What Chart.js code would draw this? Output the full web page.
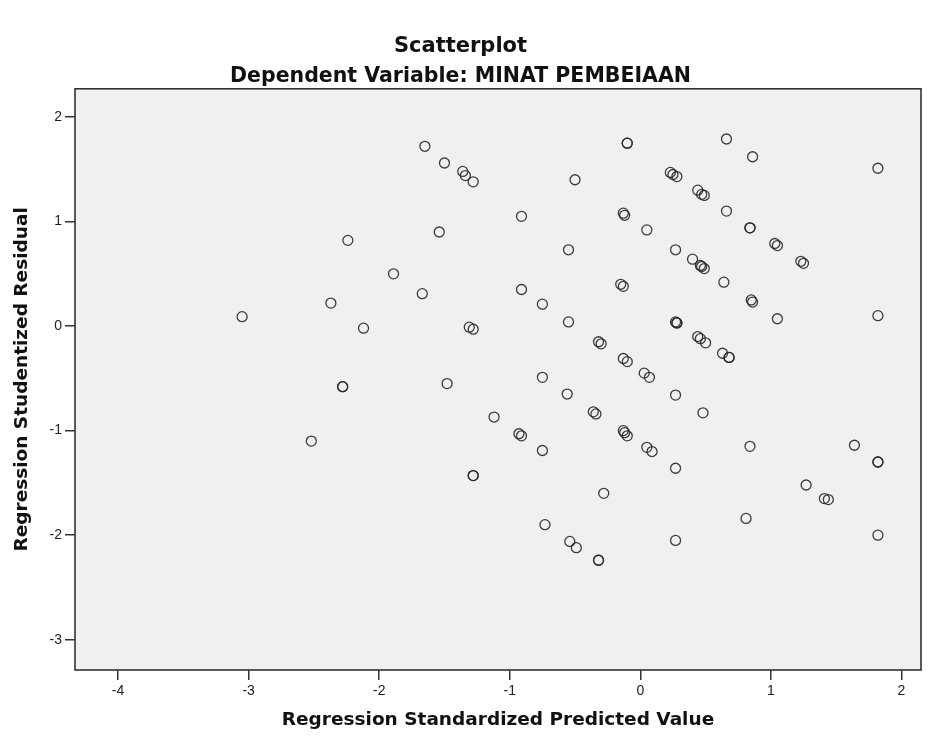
<!DOCTYPE html>
<html>
<head>
<meta charset="utf-8">
<script src="https://cdn.jsdelivr.net/npm/chart.js@4"></script>
<style>
  html, body { margin: 0; padding: 0; background: #fff; }
  #wrap { width: 935px; height: 744px; }
</style>
</head>
<body>
<div id="wrap"><canvas id="scatter-residual"></canvas></div>
<script>
// residual scatterplot (SPSS style)
const predicted = [
  -3.05, -2.52, -2.24, -2.37, -2.12, -2.28, -2.28, -1.89, -1.67, -1.65,
  -1.50, -1.36, -1.34, -1.28, -1.54, -1.48, -1.31, -1.28, -1.28, -1.28,
  -1.12, -0.93, -0.91, -0.91, -0.91, -0.75, -0.75, -0.75, -0.73, -0.55,
  -0.55, -0.56, -0.54, -0.49, -0.50, -0.32, -0.30, -0.36, -0.34, -0.28,
  -0.32, -0.32, -0.10, -0.10, -0.13, -0.12, -0.15, -0.13, -0.13, -0.10,
  -0.13, -0.12, -0.10, 0.05, 0.03, 0.07, 0.05, 0.09, 0.23, 0.25,
  0.28, 0.27, 0.27, 0.28, 0.28, 0.27, 0.27, 0.27, 0.40, 0.46,
  0.47, 0.49, 0.44, 0.47, 0.49, 0.44, 0.46, 0.50, 0.48, 0.64,
  0.63, 0.68, 0.68, 0.66, 0.66, 0.86, 0.84, 0.84, 0.85, 0.86,
  0.84, 0.81, 1.03, 1.05, 1.05, 1.23, 1.25, 1.27, 1.41, 1.44,
  1.64, 1.82, 1.82, 1.82, 1.82, 1.82
];
const residual = [
  0.09, -1.10, 0.82, 0.22, -0.02, -0.58, -0.58, 0.50, 0.31, 1.72,
  1.56, 1.48, 1.44, 1.38, 0.90, -0.55, -0.01, -0.03, -1.43, -1.43,
  -0.87, -1.03, -1.05, 1.05, 0.35, 0.21, -0.49, -1.19, -1.90, 0.73,
  0.04, -0.65, -2.06, -2.12, 1.40, -0.15, -0.17, -0.82, -0.84, -1.60,
  -2.24, -2.24, 1.75, 1.75, 1.08, 1.06, 0.40, 0.38, -0.31, -0.34,
  -1.00, -1.02, -1.05, 0.92, -0.45, -0.49, -1.16, -1.20, 1.47, 1.45,
  1.43, 0.73, 0.04, 0.03, 0.03, -0.66, -1.36, -2.05, 0.64, 0.58,
  0.57, 0.55, 1.30, 1.26, 1.25, -0.10, -0.12, -0.16, -0.83, 0.42,
  -0.26, -0.30, -0.30, 1.10, 1.79, 1.62, 0.94, 0.94, 0.25, 0.23,
  -1.15, -1.84, 0.79, 0.77, 0.07, 0.62, 0.60, -1.52, -1.65, -1.66,
  -1.14, 1.51, 0.10, -1.30, -1.30, -2.00
];
const xTicks = [-4, -3, -2, -1, 0, 1, 2];
const yTicks = [-3, -2, -1, 0, 1, 2];

const points = predicted.map((x, i) => ({ x: x, y: residual[i] }));

const titleFont = "'DejaVu Sans', 'Liberation Sans', Arial, sans-serif";
const tickFont = "'Liberation Sans', Arial, sans-serif";

const plotFrame = {
  id: "plotFrame",
  beforeDraw(chart) {
    const { ctx, chartArea: a } = chart;
    ctx.save();
    ctx.fillStyle = "#f0f0f0";
    ctx.fillRect(a.left, a.top, a.right - a.left, a.bottom - a.top);
    ctx.restore();
  },
  afterDraw(chart) {
    const { ctx, chartArea: a } = chart;
    ctx.save();
    ctx.strokeStyle = "#333";
    ctx.lineWidth = 1.6;
    ctx.strokeRect(a.left, a.top, a.right - a.left, a.bottom - a.top);
    ctx.restore();
  },
};

new Chart(document.getElementById("scatter-residual"), {
  type: "scatter",
  data: {
    datasets: [
      {
        label: "Residual",
        data: points,
        pointStyle: "circle",
        pointRadius: 5,
        pointBorderWidth: 1.3,
        borderColor: "rgba(40, 40, 40, 0.9)",
        backgroundColor: "rgba(0, 0, 0, 0)",
      },
    ],
  },
  plugins: [plotFrame],
  options: {
    responsive: true,
    maintainAspectRatio: false,
    animation: false,
    layout: { padding: { left: 0, right: 14, top: 0, bottom: 0 } },
    plugins: {
      legend: { display: false },
      tooltip: { enabled: false },
      title: {
        display: true,
        text: "Scatterplot",
        color: "#111",
        font: { family: titleFont, size: 21, weight: "bold" },
        padding: { top: 34, bottom: 5 },
      },
      subtitle: {
        display: true,
        text: "Dependent Variable: MINAT PEMBEIAAN",
        color: "#111",
        font: { family: titleFont, size: 20.5, weight: "bold" },
        padding: { top: 0, bottom: 0 },
      },
    },
    scales: {
      x: {
        type: "linear",
        min: -4.33,
        max: 2.15,
        afterBuildTicks: (scale) => { scale.ticks = xTicks.map((v) => ({ value: v })); },
        afterFit: (scale) => { scale.height = 74; },
        grid: { drawOnChartArea: false, drawTicks: true, tickLength: 10, color: "#333", lineWidth: 1.5 },
        border: { display: false },
        ticks: {
          color: "#222",
          padding: 3,
          maxRotation: 0,
          font: { family: tickFont, size: 14 },
        },
        title: {
          display: true,
          text: "Regression Standardized Predicted Value",
          color: "#111",
          font: { family: titleFont, size: 18.5, weight: "bold" },
          padding: { top: 0, bottom: 13 },
        },
      },
      y: {
        type: "linear",
        min: -3.29,
        max: 2.27,
        afterBuildTicks: (scale) => { scale.ticks = yTicks.map((v) => ({ value: v })); },
        afterFit: (scale) => { scale.width = 75; },
        grid: { drawOnChartArea: false, drawTicks: true, tickLength: 10, color: "#333", lineWidth: 1.5 },
        border: { display: false },
        ticks: {
          color: "#222",
          padding: 3,
          font: { family: tickFont, size: 14 },
        },
        title: {
          display: true,
          text: "Regression Studentized Residual",
          color: "#111",
          font: { family: titleFont, size: 18.5, weight: "bold" },
          padding: { top: 11, bottom: 0 },
        },
      },
    },
  },
});
</script>
</body>
</html>
